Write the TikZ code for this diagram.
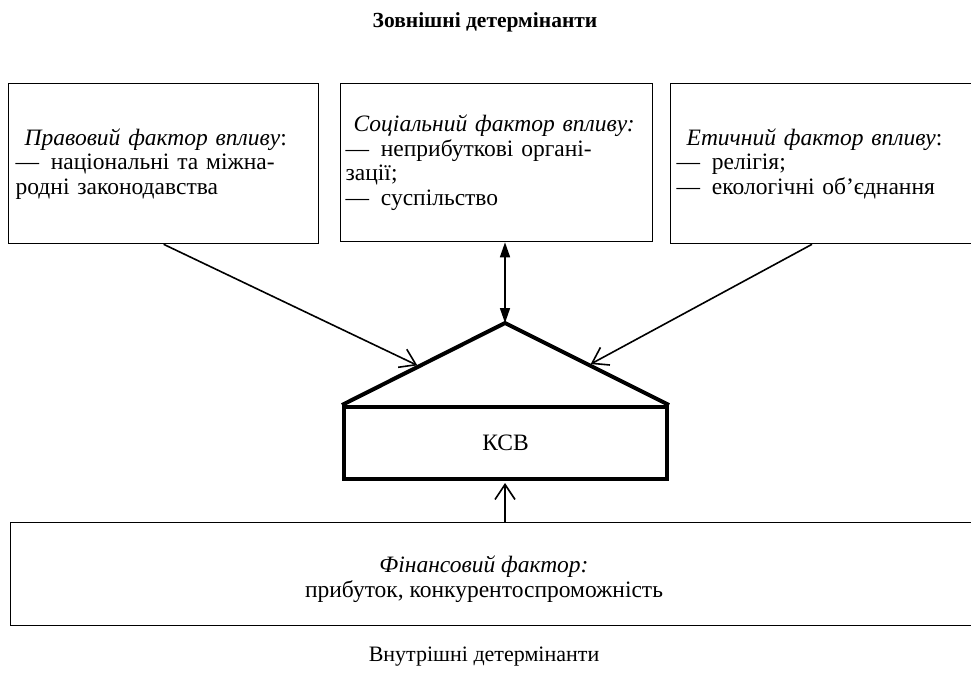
\documentclass[tikz,border=0pt]{standalone}
\usepackage{fontspec}
\setmainfont{Liberation Serif}
\usetikzlibrary{arrows.meta,calc}
\begin{document}
\begin{tikzpicture}[x=1pt,y=-1pt,
  font=\fontsize{23.5pt}{24.5pt}\selectfont,
  fbox/.style={draw,line width=1.3pt,rectangle,inner ysep=0pt,anchor=north west,align=left},
  thick box/.style={draw,line width=4pt,rectangle,anchor=north west},
  vee/.style={-{Straight Barb[length=15pt,width=20pt,line width=1.6pt]},line width=1.6pt},
  dbl/.style={{Triangle[length=15pt,width=10pt]}-{Triangle[length=15pt,width=10pt]},line width=1.6pt},
  plain/.style={inner sep=0pt,align=center}]
\useasboundingbox (0,0) rectangle (971,688);
\clip (0,0) rectangle (971,688);

\node[plain,font=\fontsize{21.5pt}{24pt}\selectfont\bfseries] (title) at (485,22) {Зовнішні детермінанти};

\node[fbox,minimum width=310pt,minimum height=160pt,text width=296pt,inner xsep=7pt] (b1) at (8,83)
  {\hspace*{9pt}\textit{Правовий фактор впливу}:\\—\enspace національні та міжна-\\родні законодавства};
\node[fbox,minimum width=312pt,minimum height=158pt,text width=302pt,inner xsep=5pt] (b2) at (340,83)
  {\hspace*{8pt}\textit{Соціальний фактор впливу:}\\—\enspace неприбуткові органі-\\зації;\\—\enspace суспільство};
\node[fbox,minimum width=310pt,minimum height=160pt,text width=298pt,inner xsep=6pt] (b3) at (670,83)
  {\hspace*{10pt}\textit{Етичний фактор впливу}:\\—\enspace релігія;\\—\enspace екологічні об’єднання};

\node[thick box,minimum width=323pt,minimum height=72pt] (k) at (342,405) {КСВ};
\coordinate (apex) at (505,323);
\draw[line width=4pt,line join=miter] (k.north west) -- (apex) -- (k.north east);

\draw[dbl] (apex |- b2.south) -- (apex);
\draw[vee,shorten >=2pt] (b1.south) -- ($(k.north west)!0.473!(apex)$);
\coordinate (b3foot) at ($(b3.south west)+(142,0)$);
\draw[vee,shorten >=2pt] (b3foot) -- ($(k.north east)!0.488!(apex)$);

\node[fbox,minimum width=970pt,minimum height=103pt] (fin) at (10,522) {};
\node[plain] (fint) at (484,579) {\textit{Фінансовий фактор:}\\прибуток, конкурентоспроможність};
\draw[vee,shorten >=2pt] (fin.north -| apex) -- (k.south -| apex);

\node[plain,font=\fontsize{22pt}{24pt}\selectfont] (inner) at (484,657) {Внутрішні детермінанти};
\end{tikzpicture}
\end{document}
